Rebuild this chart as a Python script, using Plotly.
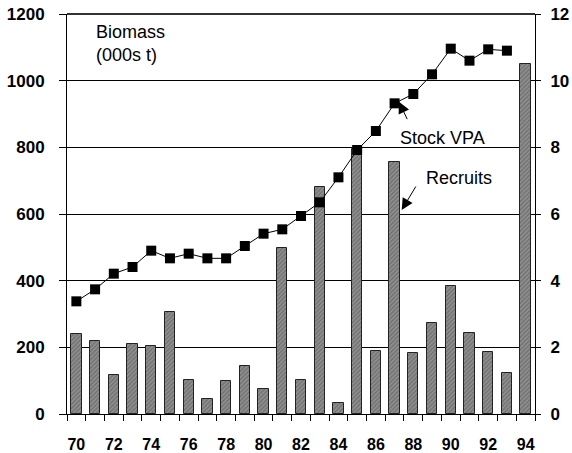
import plotly.graph_objects as go

years = list(range(70, 95))
year_labels = [str(y) for y in range(70, 95, 2)]
stock_vpa = [338, 374, 421, 441, 490, 467, 481, 467, 467, 504, 541, 554, 594, 635,
             710, 792, 849, 932, 960, 1019, 1096, 1060, 1094, 1090]
recruits = [2.40, 2.20, 1.18, 2.11, 2.04, 3.07, 1.02, 0.45, 1.00, 1.45, 0.76, 4.99, 1.02,
            6.80, 0.32, 7.94, 1.90, 7.55, 1.84, 2.72, 3.85, 2.44, 1.87, 1.23, 10.50]
left_ticks = [0, 200, 400, 600, 800, 1000, 1200]
right_ticks = [0, 2, 4, 6, 8, 10, 12]

FONT = "Liberation Sans, Arial, sans-serif"

fig = go.Figure()

fig.add_trace(go.Bar(
    x=years, y=recruits, width=0.55, yaxis="y",
    marker=dict(color="#888888", line=dict(color="#222222", width=1),
                pattern=dict(shape="/", fgcolor="#4f4f4f", bgcolor="#909090", size=3, solidity=0.45)),
    showlegend=False,
))

fig.add_trace(go.Scatter(
    x=years[:len(stock_vpa)], y=stock_vpa, yaxis="y2", mode="lines+markers",
    line=dict(color="black", width=1),
    marker=dict(symbol="square", size=10, color="black"),
    showlegend=False,
))

fig.update_layout(
    width=572, height=453,
    margin=dict(l=67, r=37, t=14, b=39),
    paper_bgcolor="white", plot_bgcolor="white",
    font=dict(family=FONT, color="black"),
    bargap=0,
    xaxis=dict(
        range=[69.5, 94.5], automargin=False,
        tickvals=[int(v) for v in year_labels], ticktext=year_labels,
        ticks="", showgrid=False, zeroline=False,
        showline=True, linecolor="black", linewidth=1,
        tickfont=dict(size=16, family=FONT, weight="bold"),
        ticklabelstandoff=16,
        minor=dict(ticks="outside", tick0=69.5, dtick=1, ticklen=6, tickcolor="black", showgrid=False),
    ),
    yaxis=dict(
        side="right", range=[0, 12], tickvals=right_ticks, automargin=False,
        ticks="outside", ticklen=5, tickcolor="black",
        showgrid=True, gridcolor="black", gridwidth=1, zeroline=False,
        showline=True, linecolor="black", linewidth=1,
        tickfont=dict(size=17, family=FONT, weight="bold"),
        ticklabelstandoff=6,
    ),
    yaxis2=dict(
        side="left", overlaying="y", range=[0, 1200], tickvals=left_ticks, automargin=False,
        ticks="outside", ticklen=7, tickcolor="black",
        showgrid=False, zeroline=False,
        showline=True, linecolor="black", linewidth=1,
        tickfont=dict(size=17, family=FONT, weight="bold"),
        ticklabelstandoff=11,
    ),
    shapes=[dict(type="line", xref="paper", yref="paper", x0=0, x1=1, y0=1, y1=1,
                 line=dict(color="#333333", width=2))],
    annotations=[
        dict(text="Biomass<br>(000s t)", xref="paper", yref="paper", x=0.058, y=0.985,
             xanchor="left", yanchor="top", align="left", showarrow=False,
             font=dict(size=18, family=FONT)),
        dict(text="Stock VPA", xref="paper", yref="paper", x=0.802, y=0.689,
             xanchor="center", yanchor="middle", showarrow=False,
             font=dict(size=18, family=FONT)),
        dict(text="Recruits", xref="paper", yref="paper", x=0.838, y=0.589,
             xanchor="center", yanchor="middle", showarrow=False,
             font=dict(size=18, family=FONT)),
        dict(text="", x=87.23, y=937, xref="x", yref="y2", ax=9, ay=19,
             showarrow=True, arrowhead=2, arrowsize=2.3, arrowwidth=1, arrowcolor="black"),
        dict(text="", x=87.38, y=6.12, xref="x", yref="y", ax=15, ay=-25,
             showarrow=True, arrowhead=2, arrowsize=2.3, arrowwidth=1, arrowcolor="black"),
    ],
)

fig.write_html("out.html", config={"displayModeBar": False},
               post_script="document.body.style.margin='0px';")
